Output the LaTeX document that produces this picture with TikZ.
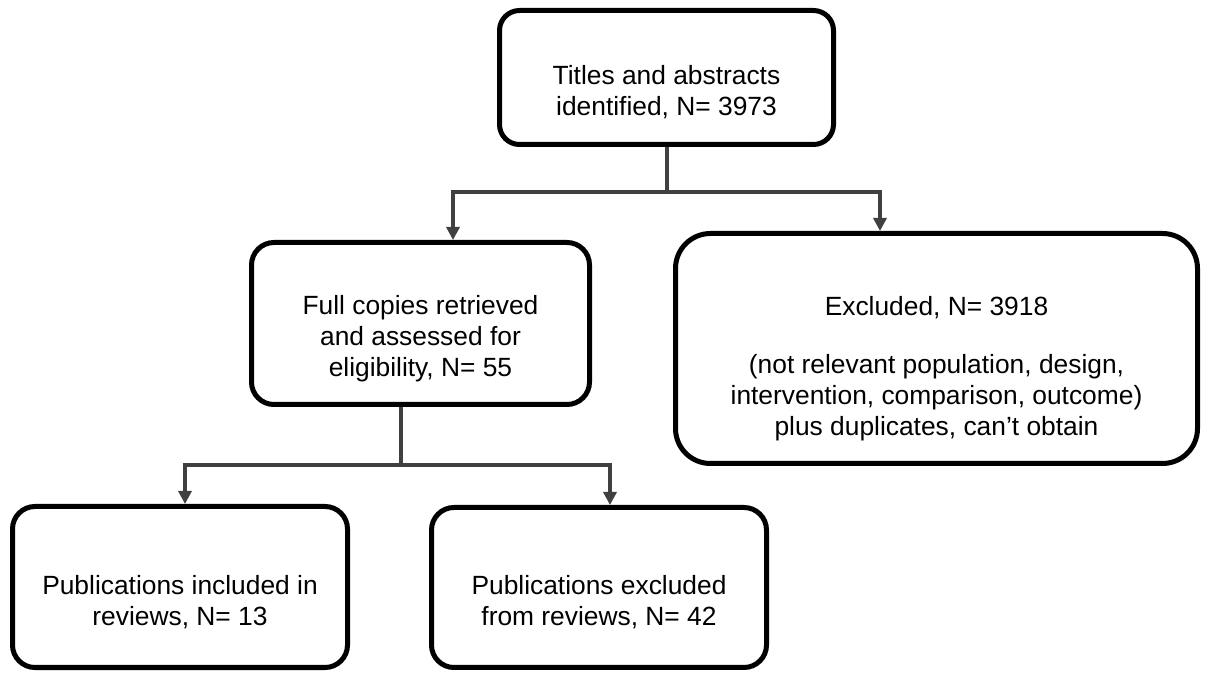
\documentclass[tikz,border=0pt]{standalone}
\usepackage{fontspec}
\setmainfont{Liberation Sans}
\usepackage{tikz}
\usetikzlibrary{positioning}
\usetikzlibrary{arrows.meta}
\definecolor{linkgray}{RGB}{64,64,64}

\begin{document}
\begin{tikzpicture}[on grid,
    box/.style={draw=black, line width=0.1cm, rounded corners=0.45cm, minimum width=6.7cm},
    txt/.style={align=center, font=\fontsize{15}{17.5}\selectfont, yshift=-0.3cm},
    link/.style={draw=linkgray, line width=0.08cm},
    arr/.style={link, -{Triangle[length=0.26cm,width=0.26cm]}}]
   \useasboundingbox (0,0) rectangle (24.12,-13.46);
   \node[box, minimum width=6.68cm, minimum height=2.68cm, rounded corners=0.4cm,
         label={[txt]center:{Titles and abstracts\\identified, N= 3973}}] (ident) at (13.33,-1.55) {};
   \node[box, minimum width=6.76cm, minimum height=3.24cm,
         label={[txt]center:{Full copies retrieved\\and assessed for\\eligibility, N= 55}}] (full) [below left=4.92cm and 4.92cm of ident] {};
   \node[box, minimum width=10.44cm, minimum height=4.6cm, rounded corners=0.7cm,
         label={[txt, yshift=-0.1cm]center:{Excluded, N= 3918\\[0.55cm](not relevant population, design,\\intervention, comparison, outcome)\\plus duplicates, can’t obtain}}] (excl) [below right=5.42cm and 5.40cm of ident] {};
%  second screening step
   \node[box, minimum height=3.22cm,
         label={[txt]center:{Publications included in\\reviews, N= 13}}] (incl) [below left=5.27cm and 4.81cm of full] {};
   \node[box, minimum height=3.2cm,
         label={[txt]center:{Publications excluded\\from reviews, N= 42}}] (pubexcl) [below right=5.28cm and 3.57cm of full] {};

   \draw[link] (ident.south) -- ++(0,-0.9) coordinate (split1);
   \draw[arr] (split1) -| ([xshift=0.65cm]full.north);
   \draw[arr] (split1) -| ([xshift=-1.13cm]excl.north);
   \draw[link] ([xshift=-0.39cm]full.south) -- ++(0,-1.17) coordinate (split2);
   \draw[arr] (split2) -| ([xshift=0.10cm]incl.north);
   \draw[arr] (split2) -| ([xshift=0.22cm]pubexcl.north);
\end{tikzpicture}
\end{document}
